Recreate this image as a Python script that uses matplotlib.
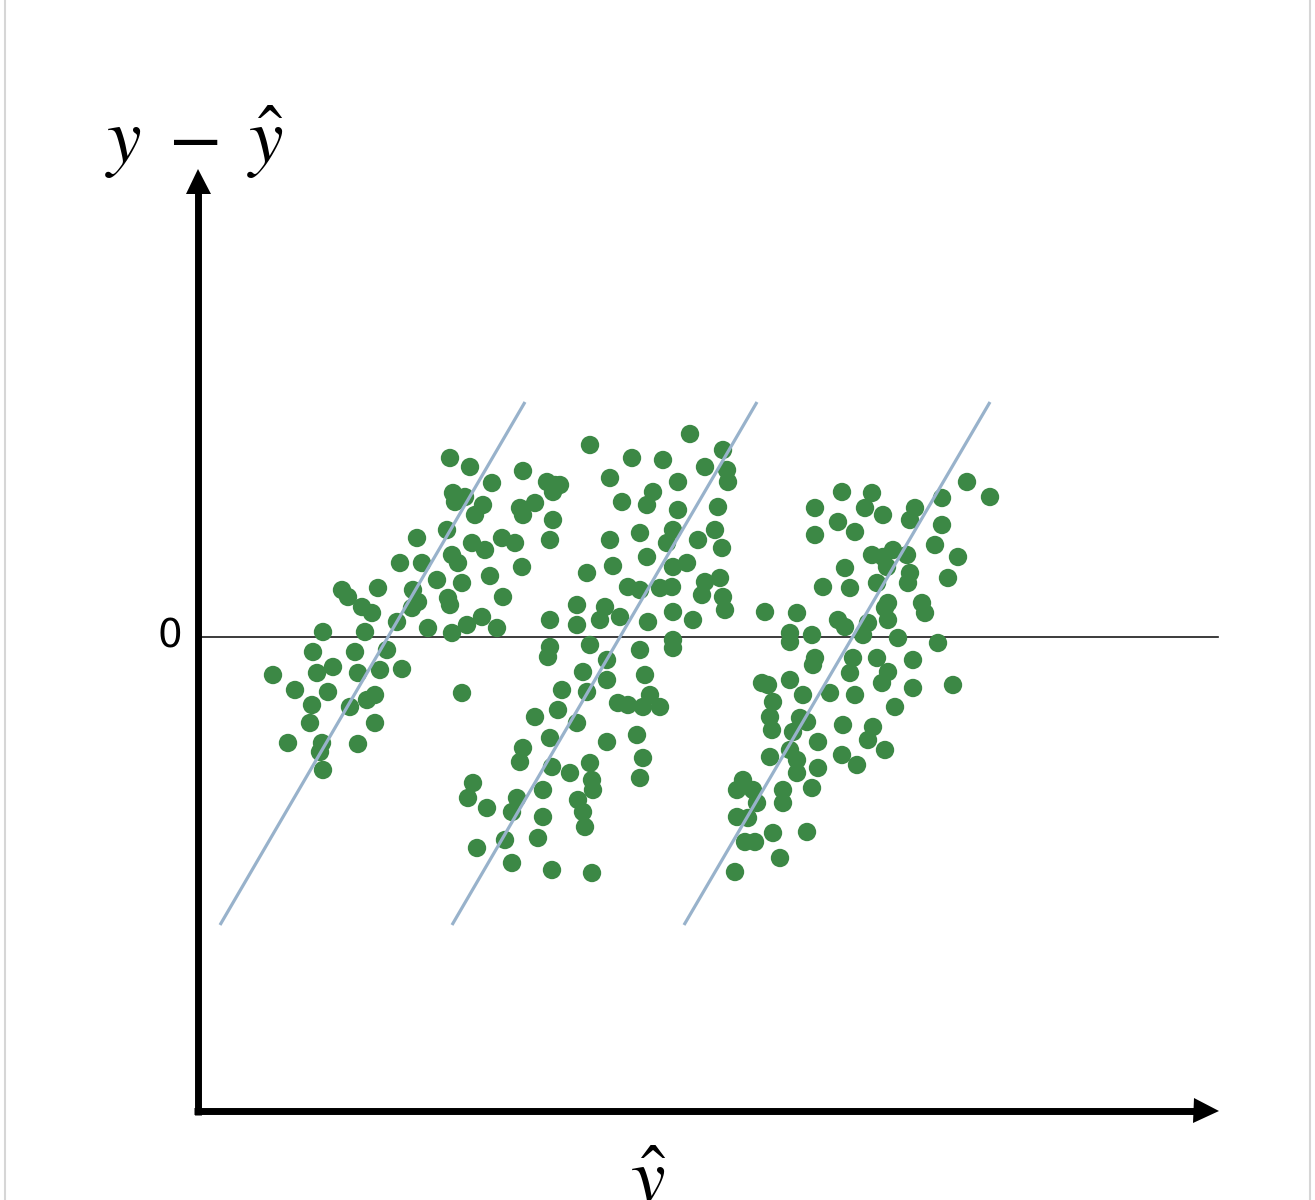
import matplotlib
matplotlib.use("Agg")
import matplotlib.pyplot as plt
import numpy as np

# residual plot: y - yhat against yhat, three groups of points with a fitted diagonal each
left_x = [252, 272, 325, 294, 255, 257, 267, 285, 277, 322, 325, 337, 349, 357, 362, 355,
          355, 352, 249, 219, 274, 287, 304, 317, 254, 260, 202, 224, 324, 292, 239, 264,
          144, 150, 180, 215, 220, 214, 250, 252, 305, 164, 174, 199, 284, 269, 299, 230,
          254, 125, 167, 115, 157, 189, 75, 119, 135, 160, 182, 204, 97, 130, 114, 152,
          169, 177, 264, 112, 177, 90, 124, 122, 160, 125]
left_y = [179, 170, 166, 154, 144, 135, 140, 132, 122, 129, 122, 134, 155, 152, 152, 145,
          117, 97, 107, 99, 94, 87, 99, 94, 82, 74, 74, 74, 70, 61, 57, 54,
          47, 40, 49, 47, 35, 29, 39, 32, 40, 30, 24, 15, 20, 12, 9, 9,
          4, 5, 5, -15, -15, -13, -38, -36, -30, -36, -33, -32, -53, -55, -68, -70,
          -63, -58, -56, -86, -86, -106, -106, -115, -107, -133]

mid_x = [392, 492, 434, 465, 507, 525, 529, 530, 412, 480, 455, 449, 424, 480, 520, 442,
         475, 469, 500, 517, 524, 412, 449, 415, 475, 489, 389, 430, 442, 462, 474, 507,
         522, 504, 525, 527, 379, 379, 407, 402, 422, 450, 475, 495, 352, 352, 350, 392,
         442, 475, 475, 385, 409, 409, 447, 364, 389, 420, 430, 445, 452, 462, 360, 337,
         379, 352, 409, 439, 325, 322, 445, 354, 372, 392, 394, 395, 442, 275, 270, 289,
         319, 314, 345, 380, 385, 387, 345, 340, 307, 279, 314, 354, 394]
mid_y = [192, 203, 179, 177, 170, 187, 167, 155, 159, 155, 145, 132, 135, 127, 130, 104,
         107, 94, 97, 107, 89, 97, 80, 71, 70, 74, 64, 50, 47, 49, 50, 55,
         59, 42, 40, 27, 32, 12, 30, 17, 20, 15, 25, 17, 17, -10, -20, -8,
         -13, -3, -11, -35, -23, -43, -38, -53, -55, -66, -68, -70, -58, -70, -73, -80,
         -86, -101, -105, -98, -111, -125, -121, -130, -136, -126, -143, -153, -141, -146, -161, -171,
         -161, -175, -153, -163, -175, -190, -180, -201, -203, -211, -226, -233, -236]

right_x = [644, 674, 667, 769, 792, 744, 617, 685, 717, 712, 640, 657, 617, 744, 737, 674,
           685, 695, 709, 689, 712, 710, 760, 750, 647, 625, 652, 679, 690, 687, 690, 724,
           727, 567, 599, 640, 647, 670, 665, 592, 592, 614, 700, 740, 617, 615, 655, 652,
           679, 690, 684, 715, 755, 715, 564, 570, 592, 605, 632, 657, 697, 575, 572, 574,
           602, 609, 595, 645, 675, 670, 620, 687, 572, 592, 599, 599, 644, 659, 620, 545,
           539, 555, 585, 585, 614, 559, 539, 550, 575, 609, 547, 557, 582, 537]
right_y = [145, 144, 129, 155, 140, 139, 129, 122, 129, 117, 115, 105, 102, 112, 92, 82,
           80, 87, 82, 70, 64, 54, 80, 59, 69, 50, 49, 54, 34, 29, 17, 34,
           24, 25, 24, 17, 10, 14, 2, 4, -5, 2, -1, -6, -21, -28, -21, -36,
           -21, -35, -46, -23, -48, -51, -46, -48, -43, -58, -56, -58, -70, -65, -80, -93,
           -81, -85, -95, -88, -90, -103, -105, -113, -120, -113, -123, -136, -118, -128, -131, -143,
           -153, -153, -153, -166, -151, -166, -180, -181, -196, -195, -205, -205, -221, -235]

# fitted lines, one per group
fit_x0 = [22, 254, 486]
fit_x1 = [327, 559, 792]
fit_y0 = [-288, -288, -288]
fit_y1 = [235, 235, 235]

dot_color = "#3c8845"
line_color = "#98b2cb"

fig = plt.figure(figsize=(13.15, 12), dpi=100)
ax = fig.add_axes([0, 0, 1, 1])
ax.set_xlim(-198, 1117)
ax.set_ylim(-563, 637)
ax.axis("off")

ax.scatter(left_x + mid_x + right_x, left_y + mid_y + right_y,
           s=175, color=dot_color, edgecolors="none", zorder=3)

for x0, x1, y0, y1 in zip(fit_x0, fit_x1, fit_y0, fit_y1):
    ax.plot([x0, x1], [y0, y1], color=line_color, lw=2.3, zorder=4,
            solid_capstyle="butt")

# zero line
ax.plot([0, 1020], [0, 0], color="#1a1a1a", lw=1.2, zorder=2)

# axes drawn as thick lines with triangle heads
ax.plot([0, 0], [-478, 452], color="black", lw=5, solid_capstyle="butt")
ax.plot([0], [456], marker="^", ms=18, color="black", mew=0)
ax.plot([-4, 1004], [-474, -474], color="black", lw=5, solid_capstyle="butt")
ax.plot([1008], [-474], marker=">", ms=18, color="black", mew=0)

plt.rcParams["mathtext.fontset"] = "stix"
ax.text(-3, 495, r"$y\;-\;\hat{y}$", fontsize=56, ha="center", va="center")
ax.text(450, -506, r"$\hat{y}$", fontsize=56, ha="center", va="top")
ax.text(-16, 0, "0", fontsize=28, ha="right", va="center", family="DejaVu Sans")

# faint frame edges of the original slide
ax.plot([-193, -193], [-563, 637], color="#d6d6d6", lw=1.5)
ax.plot([1112, 1112], [-563, 637], color="#d6d6d6", lw=1.5)

fig.savefig("out.png", dpi=100)
